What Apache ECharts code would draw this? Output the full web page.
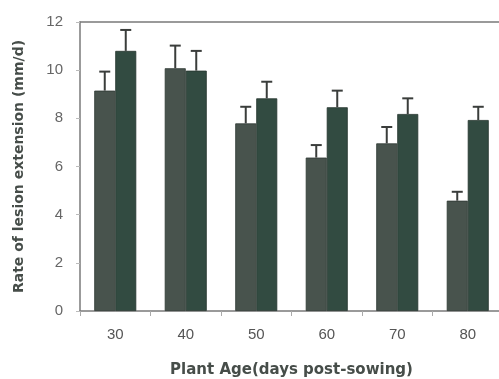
<!DOCTYPE html>
<html>
<head>
<meta charset="utf-8">
<script src="https://cdn.jsdelivr.net/npm/echarts@6/dist/echarts.min.js"></script>
<style>html,body{margin:0;padding:0;background:#fff;}#c{width:499px;height:379px;}</style>
</head>
<body>
<div id="c"></div>
<script>
var categories = ['30', '40', '50', '60', '70', '80'];
var seriesA = [9.15, 10.08, 7.79, 6.37, 6.96, 4.58];
var errA = [0.79, 0.94, 0.69, 0.52, 0.68, 0.37];
var seriesB = [10.8, 9.98, 8.83, 8.46, 8.18, 7.93];
var errB = [0.87, 0.82, 0.69, 0.69, 0.65, 0.55];
var yTicks = [0, 2, 4, 6, 8, 10, 12];

var BAR_W = 21;
function errData(vals, errs) {
  return vals.map(function (v, i) { return [i, v, errs[i]]; });
}
function errRender(side) {
  return function (params, api) {
    var i = api.value(0), v = api.value(1), e = api.value(2);
    var base = api.coord([i, v]);
    var top = api.coord([i, v + e]);
    var x = base[0] + side * BAR_W / 2;
    var cap = 5.5;
    var st = { stroke: '#3a3d3b', lineWidth: 2 };
    return {
      type: 'group',
      children: [
        { type: 'line', shape: { x1: x, y1: base[1], x2: x, y2: top[1] }, style: st },
        { type: 'line', shape: { x1: x - cap, y1: top[1], x2: x + cap, y2: top[1] }, style: st }
      ]
    };
  };
}

var chart = echarts.init(document.getElementById('c'));
chart.setOption({
  animation: false,
  backgroundColor: '#fff',
  grid: { left: 80, top: 22, width: 423, height: 289, outerBoundsMode: 'none', containLabel: false },
  xAxis: [{
    type: 'category',
    data: categories,
    name: 'Plant Age(days post-sowing)',
    nameLocation: 'middle',
    nameGap: 52,
    nameTextStyle: { fontFamily: 'DejaVu Sans', fontWeight: 'bold', fontSize: 15, color: '#464d49' },
    axisLine: { lineStyle: { color: '#7a7a7a', width: 1.5 } },
    axisTick: { show: true, interval: 0, length: 5, lineStyle: { color: '#aaa' } },
    axisLabel: { margin: 16, fontFamily: 'Liberation Sans', fontSize: 15, color: '#555' }
  }, {
    type: 'category',
    data: categories,
    position: 'top',
    axisLine: { show: true, lineStyle: { color: '#7a7a7a', width: 1.5 } },
    axisTick: { show: false },
    axisLabel: { show: false }
  }],
  yAxis: {
    type: 'value',
    min: yTicks[0],
    max: yTicks[yTicks.length - 1],
    interval: 2,
    name: 'Rate of lesion extension (mm/d)',
    nameLocation: 'middle',
    nameGap: 54,
    nameTextStyle: { fontFamily: 'DejaVu Sans', fontWeight: 'bold', fontSize: 14, color: '#464d49' },
    axisLine: { show: true, lineStyle: { color: '#7a7a7a', width: 1.5 } },
    axisTick: { show: true, length: 4, lineStyle: { color: '#bbb' } },
    splitLine: { show: false },
    axisLabel: { margin: 17, fontFamily: 'Liberation Sans', fontSize: 15, color: '#666', padding: [0, 0, 6, 0] }
  },
  series: [
    { type: 'bar', data: seriesA, barWidth: BAR_W, barGap: '0%', itemStyle: { color: '#48534d', borderColor: '#2f3833', borderWidth: 0.8 } },
    { type: 'bar', data: seriesB, barWidth: BAR_W, barGap: '0%', itemStyle: { color: '#324b41', borderColor: '#26352f', borderWidth: 0.8 } },
    { type: 'custom', data: errData(seriesA, errA), renderItem: errRender(-1), encode: { x: 0, y: 1 }, z: 3 },
    { type: 'custom', data: errData(seriesB, errB), renderItem: errRender(1), encode: { x: 0, y: 1 }, z: 3 }
  ]
});
</script>
</body>
</html>
